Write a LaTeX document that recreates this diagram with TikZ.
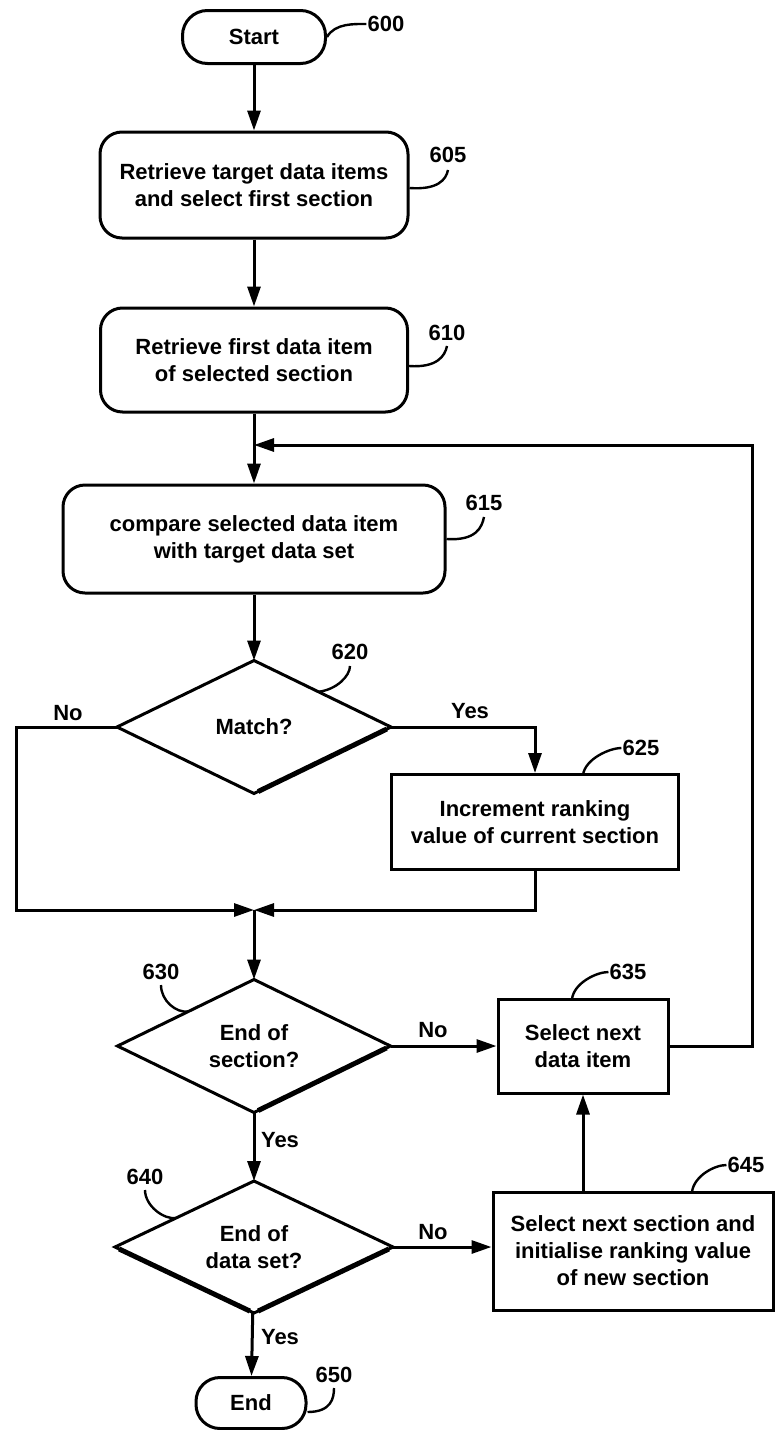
\documentclass[tikz,border=0pt]{standalone}
\usepackage{fontspec}
\setmainfont{Liberation Sans}
\usetikzlibrary{shapes.geometric,arrows.meta,calc}
\begin{document}
\begin{tikzpicture}[x=1pt,y=-1pt,
  every node/.style={font=\fontsize{22}{27}\selectfont\bfseries},
  term/.style={draw,line width=3pt,rounded corners=25pt,inner sep=0pt},
  proc/.style={draw,line width=3pt,rounded corners=22pt,align=center,inner sep=0pt},
  pbox/.style={draw,line width=3pt,align=center,inner sep=0pt},
  dec/.style={draw,diamond,aspect=2,line width=3pt,align=center,inner sep=0pt,outer sep=0pt},
  refnum/.style={inner sep=1pt},
  lead/.style={line width=2.4pt},
  flow/.style={line width=3pt,-{Triangle[length=20pt,width=13pt]}},
  heavy/.style={line width=5pt,line cap=butt}
]
\useasboundingbox (0,0) rectangle (775,1430);

% nodes
\node[term,minimum width=143pt,minimum height=53pt] (start) at (254,37) {Start};
\node[proc,minimum width=308pt,minimum height=106pt] (n605) at (254,185) {Retrieve target data items\\and select first section};
\node[proc,minimum width=307pt,minimum height=104pt] (n610) at (254,360) {Retrieve first data item\\of selected section};
\node[proc,minimum width=382pt,minimum height=108pt] (n615) at (254,539) {compare selected data item\\with target data set};
\node[dec,minimum width=274pt,minimum height=133pt] (n620) at (254,727) {Match?};
\node[pbox,minimum width=287pt,minimum height=95pt] (n625) at (535,822) {Increment ranking\\value of current section};
\node[dec,minimum width=273pt,minimum height=133pt] (n630) at (254,1046) {End of\\section?};
\node[pbox,minimum width=170pt,minimum height=94pt] (n635) at (583,1046) {Select next\\data item};
\node[dec,minimum width=278pt,minimum height=132pt] (n640) at (254,1247) {End of\\data set?};
\node[pbox,minimum width=280pt,minimum height=118pt] (n645) at (633,1251) {Select next section and\\initialise ranking value\\of new section};
\node[term,minimum width=110pt,minimum height=51pt,rounded corners=24pt] (end) at (251,1403) {End};

% heavier lower edges of the decisions
\draw[heavy] ($(n620.south)!0.03!(n620.east)$) -- ($(n620.south)!0.97!(n620.east)$);
\draw[heavy] ($(n630.south)!0.03!(n630.east)$) -- ($(n630.south)!0.97!(n630.east)$);
\draw[heavy] ($(n640.south)!0.03!(n640.east)$) -- ($(n640.south)!0.97!(n640.east)$);
\draw[heavy] ($(n640.south)!0.03!(n640.west)$) -- ($(n640.south)!0.97!(n640.west)$);

% junction points
\coordinate (join1) at (254,445);
\coordinate (merge) at (254,910);

% connectors
\draw[flow] (start) -- (n605);
\draw[flow] (n605) -- (n610);
\draw[flow] (n610) -- (n615);
\draw[flow] (n635.east) -- ++(83,0) |- (join1);
\draw[flow] (n615) -- (n620);
\draw[flow] (n620.east) -| (n625.north);
\draw[flow] (n620.west) -- ++(-101,0) |- (merge);
\draw[flow] (n625.south) |- (merge);
\draw[flow] (merge) -- (n630);
\draw[flow] (n630.east) -- (n635.west);
\draw[flow] (n630) -- (n640);
\draw[flow] (n640.east) -- (n640.east -| n645.west);
\draw[flow] (n640) -- (end);
\draw[flow] (n635.south |- n645.north) -- (n635.south);

% branch labels
\node (y620) at (470,711) {Yes};
\node (no620) at (68,713) {No};
\node (no630) at (433,1030) {No};
\node (y630) at (280,1140) {Yes};
\node (no640) at (433,1232) {No};
\node (y640) at (280,1337) {Yes};

% reference numerals
\node[refnum] (l600) at (386,24) {600};
\node[refnum] (l605) at (448,155) {605};
\node[refnum] (l610) at (447,333) {610};
\node[refnum] (l615) at (484,503) {615};
\node[refnum] (l620) at (350,652) {620};
\node[refnum] (l625) at (641,748) {625};
\node[refnum] (l630) at (161,972) {630};
\node[refnum] (l635) at (628,972) {635};
\node[refnum] (l640) at (145,1177) {640};
\node[refnum] (l645) at (746,1165) {645};
\node[refnum] (l650) at (334,1375) {650};

% leaders
\draw[lead] (start.east) .. controls +(8,-14) and +(-12,0) .. (l600.west);
\draw[lead] ([yshift=-3pt]n605.east) .. controls +(28,2) and +(-2,10) .. ([yshift=-6pt]l605.south);
\draw[lead] ([yshift=-6pt]n610.east) .. controls +(28,2) and +(-2,10) .. ([yshift=-4pt]l610.south);
\draw[lead] (n615.east) .. controls +(30,2) and +(-2,10) .. ([yshift=-5pt]l615.south);
\coordinate (e620) at ($(n620.north)!0.47!(n620.east)$);
\draw[lead] (e620) .. controls +(18,-2) and +(0,10) .. ([yshift=-5pt]l620.south);
\coordinate (e625) at (583,775);
\draw[lead] (e625) .. controls +(2,-16) and +(-12,0) .. (l625.west);
\coordinate (e630) at ($(n630.west)!0.52!(n630.north)$);
\draw[lead] ([yshift=-4pt]l630.south) .. controls +(0,16) and +(-12,2) .. (e630);
\coordinate (e635) at (572,999);
\draw[lead] (e635) .. controls +(2,-16) and +(-12,0) .. (l635.west);
\coordinate (e640) at ($(n640.west)!0.44!(n640.north)$);
\draw[lead] ([yshift=-4pt]l640.south) .. controls +(0,16) and +(-12,2) .. (e640);
\coordinate (e645) at (692,1192);
\draw[lead] (e645) .. controls +(2,-16) and +(-12,0) .. (l645.west);
\draw[lead] ([yshift=-9pt]end.east) .. controls +(24,0) and +(0,10) .. ([yshift=-4pt]l650.south);
\end{tikzpicture}
\end{document}
